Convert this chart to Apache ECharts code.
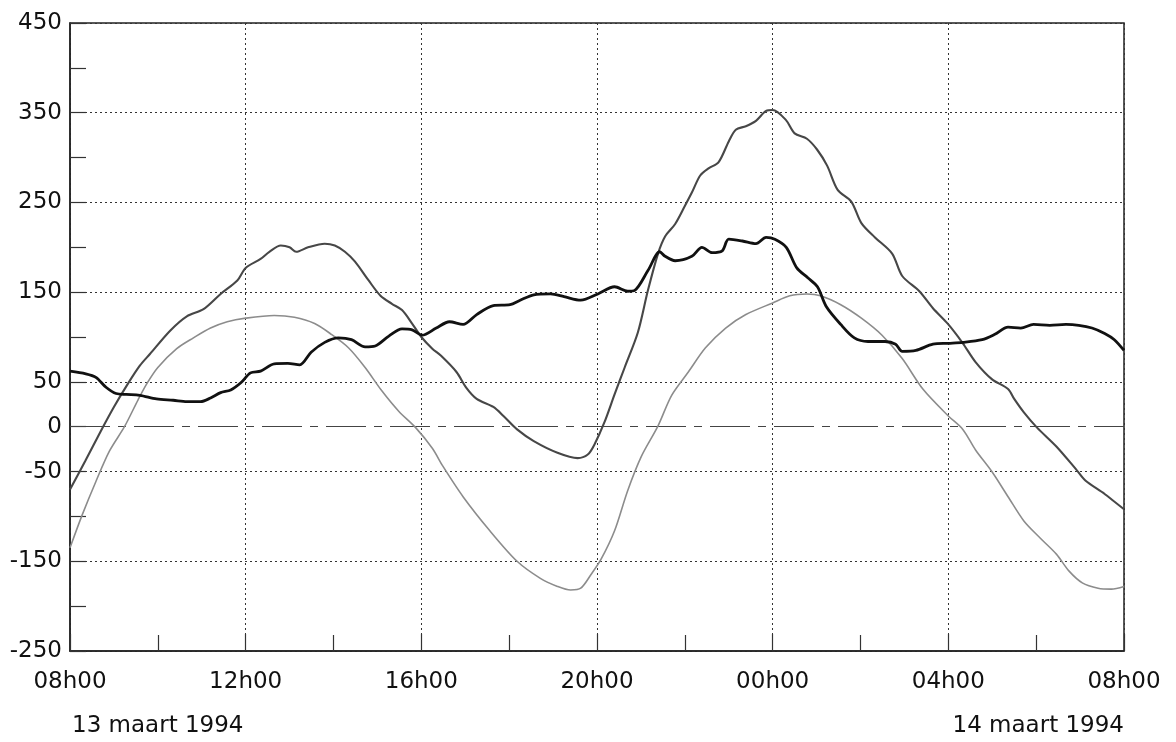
<!DOCTYPE html>
<html>
<head>
<meta charset="utf-8">
<script src="https://cdn.jsdelivr.net/npm/echarts@6/dist/echarts.min.js"></script>
<style>
html,body{margin:0;padding:0;background:#fff;}
#chart{width:1176px;height:742px;}
</style>
</head>
<body>
<div id="chart"></div>
<script>
// x = hours after 08h00 on 13 maart 1994
const xTickLabels = ['08h00','12h00','16h00','20h00','00h00','04h00','08h00'];
const yTickLabels = [450, 350, 250, 150, 50, 0, -50, -150, -250];
const dateLabels = ['13 maart 1994', '14 maart 1994'];

const blackHours = [0,0.36,0.59,0.82,1.05,1.28,1.59,1.97,2.35,2.66,2.97,3.2,3.43,3.66,3.89,4.11,4.34,4.65,4.96,5.23,5.49,5.8,6.11,6.41,6.72,6.95,7.26,7.56,7.79,8.02,8.34,8.64,8.95,9.26,9.64,10.02,10.25,10.56,10.94,11.25,11.63,12.02,12.4,12.7,12.86,13.16,13.43,13.55,13.78,14.16,14.39,14.62,14.85,15.0,15.31,15.62,15.85,16.05,16.31,16.55,16.8,17.02,17.22,17.55,17.86,18.17,18.56,18.8,18.95,19.26,19.65,20.0,20.33,20.77,21.06,21.36,21.65,21.94,22.31,22.68,22.97,23.27,23.56,23.78,24];
const blackValues = [62,59,55,44,37,36,35,31,29.5,28,28,32,38,41,49,60,62,70,70.5,69,83,94,99,97,89,90,101,109,108,102,110,117,114,125,135,136,141,147,148,145,141,148,156,151,152,174,195,190,185,190,200,194,196,209,207,204,211,209,200,177,166,156,134,114,99,95,95,92,84,85,92,93,94,97,103,111,110,114,113,114,113,110,104,97,85];

const darkHours = [0,0.35,0.7,1.0,1.32,1.59,1.82,2.28,2.66,3.04,3.43,3.81,4.0,4.34,4.54,4.8,5.0,5.15,5.42,5.8,6.03,6.26,6.49,6.8,7.07,7.33,7.56,7.79,8.0,8.25,8.45,8.8,9.03,9.26,9.64,9.87,10.18,10.56,11.1,11.56,11.79,11.94,12.17,12.4,12.63,12.93,13.16,13.39,13.55,13.78,14.0,14.16,14.35,14.54,14.77,15.0,15.16,15.39,15.62,15.85,16.0,16.3,16.5,16.78,17.01,17.24,17.48,17.79,18.02,18.33,18.72,18.95,19.34,19.65,20.0,20.33,20.62,20.99,21.36,21.5,21.72,22.02,22.46,22.9,23.12,23.56,24];
const darkValues = [-70,-38,-5,22,48,68,81,107,123,131,148,163,177,187,195,202,200,195,200,204,202,195,184,163,146,137,130,115,100,87,79,61,43,31,22,12,-3,-16,-29,-35,-31,-20,5,36,66,105,152,193,212,226,246,261,280,288,295,318,331,335,341,352,353,342,327,321,309,291,264,251,227,211,193,168,151,132,114,93,72,53,42,31,16,-1,-22,-47,-60,-75,-92];

const lightHours = [0,0.28,0.59,0.9,1.24,1.55,1.75,2.0,2.43,2.81,3.2,3.58,4.0,4.65,5.11,5.57,5.95,6.34,6.72,7.1,7.49,7.87,8.25,8.49,8.95,9.56,10.18,10.71,11.1,11.4,11.63,11.86,12.09,12.4,12.7,13.01,13.39,13.7,14.08,14.47,14.93,15.39,16.0,16.39,16.78,17.09,17.55,18.02,18.49,18.95,19.42,20.0,20.33,20.62,20.99,21.36,21.72,22.09,22.46,22.75,23.05,23.41,23.71,24];
const lightValues = [-135,-98,-61,-27,0,30,48,66,87,99,110,117,121,124,122,115,103,88,66,40,17,-1,-24,-44,-78,-116,-150,-169,-178,-182,-180,-165,-148,-116,-71,-33,1,35,61,88,110,125,138,146,148,146,136,121,102,76,42,12,-3,-26,-50,-78,-105,-124,-142,-161,-174,-180,-181,-178];

function pairs(xs, ys){ return xs.map((x,i)=>[x, ys[i]]); }

const FONT = 'DejaVu Sans';
const chart = echarts.init(document.getElementById('chart'), null, {renderer:'canvas'});
chart.setOption({
  animation: false,
  backgroundColor: '#fff',
  grid: {left:70, right:52, top:23, bottom:91, containLabel:false, outerBoundsMode:'none',
         show:true, borderColor:'#222', borderWidth:1.5, backgroundColor:'transparent'},
  xAxis: {
    type:'value', min:0, max:24, interval:4,
    axisLine:{show:true, onZero:false, lineStyle:{color:'#222', width:1.5}},
    axisTick:{show:true, inside:true, length:17, lineStyle:{color:'#333', width:1.2}},
    minorTick:{show:true, splitNumber:2, length:16, lineStyle:{color:'#333', width:1.2}},
    splitLine:{show:true, lineStyle:{color:'#333', width:1, type:[2,3]}},
    axisLabel:{margin:20, color:'#111', fontFamily:FONT, fontSize:23,
      formatter: v => xTickLabels[Math.round(v/4)] || ''}
  },
  yAxis: {
    type:'value', min:-250, max:450, interval:50,
    axisLine:{show:true, onZero:false, lineStyle:{color:'#222', width:1.5}},
    axisTick:{show:true, inside:true, length:16, lineStyle:{color:'#333', width:1.2}},
    splitLine:{show:true, lineStyle:{color:['#333','rgba(0,0,0,0)'], width:1, type:[2,3]}},
    axisLabel:{margin:8, interval:0, color:'#111', fontFamily:FONT, fontSize:23,
      formatter: v => yTickLabels.indexOf(v) >= 0 ? String(v) : ''}
  },
  series: [
    {type:'line', name:'light', data:pairs(lightHours, lightValues), showSymbol:false, smooth:0.3,
     lineStyle:{color:'#8c8c8c', width:1.6}, z:2,
     markLine:{silent:true, symbol:'none', label:{show:false}, animation:false, z:1,
       lineStyle:{color:'#444', width:1.2, type:[40,8,8,8]}, data:[{yAxis:0}]}},
    {type:'line', name:'dark', data:pairs(darkHours, darkValues), showSymbol:false, smooth:0.3,
     lineStyle:{color:'#474747', width:2.1}, z:3},
    {type:'line', name:'black', data:pairs(blackHours, blackValues), showSymbol:false, smooth:0.3,
     lineStyle:{color:'#111', width:2.8}, z:4}
  ],
  graphic: [
    {type:'text', left:72, top:715, style:{text:dateLabels[0], font:'23px "DejaVu Sans"', fill:'#111'}},
    {type:'text', right:52, top:715, style:{text:dateLabels[1], font:'23px "DejaVu Sans"', fill:'#111'}}
  ]
});
</script>
</body>
</html>
